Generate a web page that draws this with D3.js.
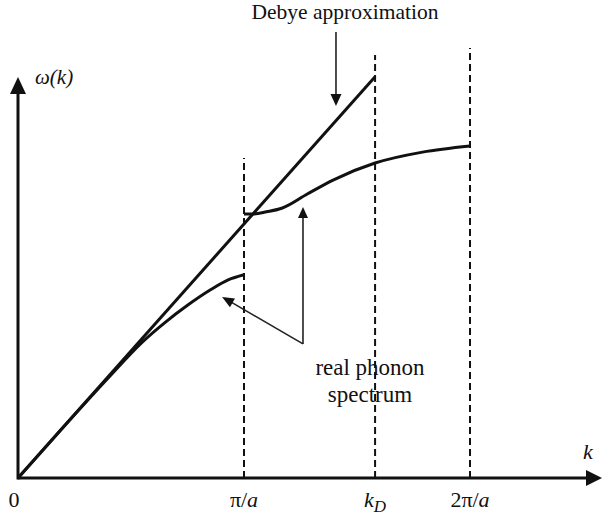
<!DOCTYPE html>
<html><head><meta charset="utf-8">
<script src="https://cdn.jsdelivr.net/npm/d3@7"></script>
<style>html,body{margin:0;padding:0;background:#fff;}svg{display:block;}</style>
</head><body>
<script>
// ---- data (k in units of pi/a, omega in units of Debye omega at pi/a) ----
const tickK = [0, 1, 1.58, 2];
const tickLabels = ["0", "π/a", "kD", "2π/a"];
const debyeK = [0, 1.58];
const debyeW = [0, 1.58];
const lowerK = [0, 0.2, 0.4, 0.55, 0.65, 0.75, 0.85, 0.93, 1.0];
const lowerW = [0, 0.2, 0.395, 0.535, 0.612, 0.68, 0.74, 0.78, 0.80];
const upperK = [1.0, 1.04, 1.10, 1.17, 1.28, 1.394, 1.58, 1.79, 2.0];
const upperW = [1.039, 1.039, 1.048, 1.063, 1.118, 1.173, 1.24, 1.283, 1.307];
const dashedK = [1, 1.58, 2];
const dashedTop = [1.26, 1.665, 1.693];

const W = 602, H = 515;
const x = d3.scaleLinear().domain([0, 1]).range([18, 244]);
const y = d3.scaleLinear().domain([0, 1]).range([478, 224]);

const svg = d3.select("body").append("svg").attr("width", W).attr("height", H);
const font = "'Liberation Serif','Times New Roman',serif";

// dashed verticals
svg.selectAll("line.dash").data(dashedK).join("line")
  .attr("x1", d => x(d)).attr("x2", d => x(d))
  .attr("y1", y(0)).attr("y2", (d, i) => y(dashedTop[i]))
  .attr("stroke", "#111").attr("stroke-width", 2).attr("stroke-dasharray", "7,4");

// axes
const ax = svg.append("g").attr("stroke", "#111").attr("fill", "#111");
ax.append("line").attr("x1", x(0)).attr("y1", y(0)).attr("x2", 588).attr("y2", y(0)).attr("stroke-width", 3);
ax.append("path").attr("d", `M602,${y(0)} L586,${y(0)-8} L586,${y(0)+8} Z`).attr("stroke", "none");
ax.append("line").attr("x1", x(0)).attr("y1", y(0)+1.5).attr("x2", x(0)).attr("y2", 92).attr("stroke-width", 3);
ax.append("path").attr("d", `M${x(0)},77 L${x(0)-8},94 L${x(0)+8},94 Z`).attr("stroke", "none");

// curves
const line = d3.line().x(d => x(d[0])).y(d => y(d[1]));
svg.append("path").datum(d3.zip(debyeK, debyeW)).attr("d", line)
  .attr("fill", "none").attr("stroke", "#111").attr("stroke-width", 3);
const curveLine = d3.line().x(d => x(d[0])).y(d => y(d[1])).curve(d3.curveMonotoneX);
svg.append("path").datum(d3.zip(lowerK, lowerW)).attr("d", curveLine)
  .attr("fill", "none").attr("stroke", "#111").attr("stroke-width", 3);
svg.append("path").datum(d3.zip(upperK, upperW)).attr("d", curveLine)
  .attr("fill", "none").attr("stroke", "#111").attr("stroke-width", 3);

// annotation arrows
function arrow(k0, w0, k1, w1, len, half) {
  const X0 = x(k0), Y0 = y(w0), X1 = x(k1), Y1 = y(w1);
  const dx = X1 - X0, dy = Y1 - Y0, L = Math.hypot(dx, dy), ux = dx / L, uy = dy / L;
  const bx = X1 - ux * len, by = Y1 - uy * len;
  svg.append("line").attr("x1", X0).attr("y1", Y0).attr("x2", bx + ux * 2).attr("y2", by + uy * 2)
    .attr("stroke", "#222").attr("stroke-width", 1.6);
  svg.append("path").attr("d", `M${X1},${Y1} L${bx - uy * half},${by + ux * half} L${bx + uy * half},${by - ux * half} Z`)
    .attr("fill", "#111");
}
arrow(1.407, 1.756, 1.407, 1.465, 12, 5.5);
arrow(1.261, 0.528, 1.261, 1.067, 11, 5);
arrow(1.261, 0.528, 0.903, 0.713, 12, 5);

// texts
const txt = (X, Y, s, size, anchor, style) => svg.append("text").attr("x", X).attr("y", Y)
  .attr("font-family", font).attr("font-size", size).attr("text-anchor", anchor || "middle")
  .attr("font-style", style || "normal").attr("fill", "#111").text(s);

txt(345, 19, "Debye approximation", 21.5);
txt(370, 375, "real phonon", 23);
txt(370, 402, "spectrum", 23);

// omega(k)
const om = svg.append("text").attr("x", 35).attr("y", 84).attr("font-family", font)
  .attr("font-size", 21).attr("font-style", "italic").attr("fill", "#111");
om.text("ω(k)");
txt(588, 459, "k", 22, "middle", "italic");

// tick labels
tickK.forEach((k, i) => {
  const lab = tickLabels[i];
  const t = svg.append("text").attr("x", k === 0 ? x(k) - 4 : x(k)).attr("y", 507)
    .attr("font-family", font).attr("font-size", 22).attr("text-anchor", "middle").attr("fill", "#111");
  if (lab === "kD") {
    t.append("tspan").attr("font-style", "italic").text("k");
    t.append("tspan").attr("font-style", "italic").attr("font-size", 17).attr("dy", 5).text("D");
  } else if (lab.includes("/a")) {
    t.append("tspan").text(lab.replace("a", ""));
    t.append("tspan").attr("font-style", "italic").text("a");
  } else {
    t.text(lab);
  }
});
</script>
</body></html>
